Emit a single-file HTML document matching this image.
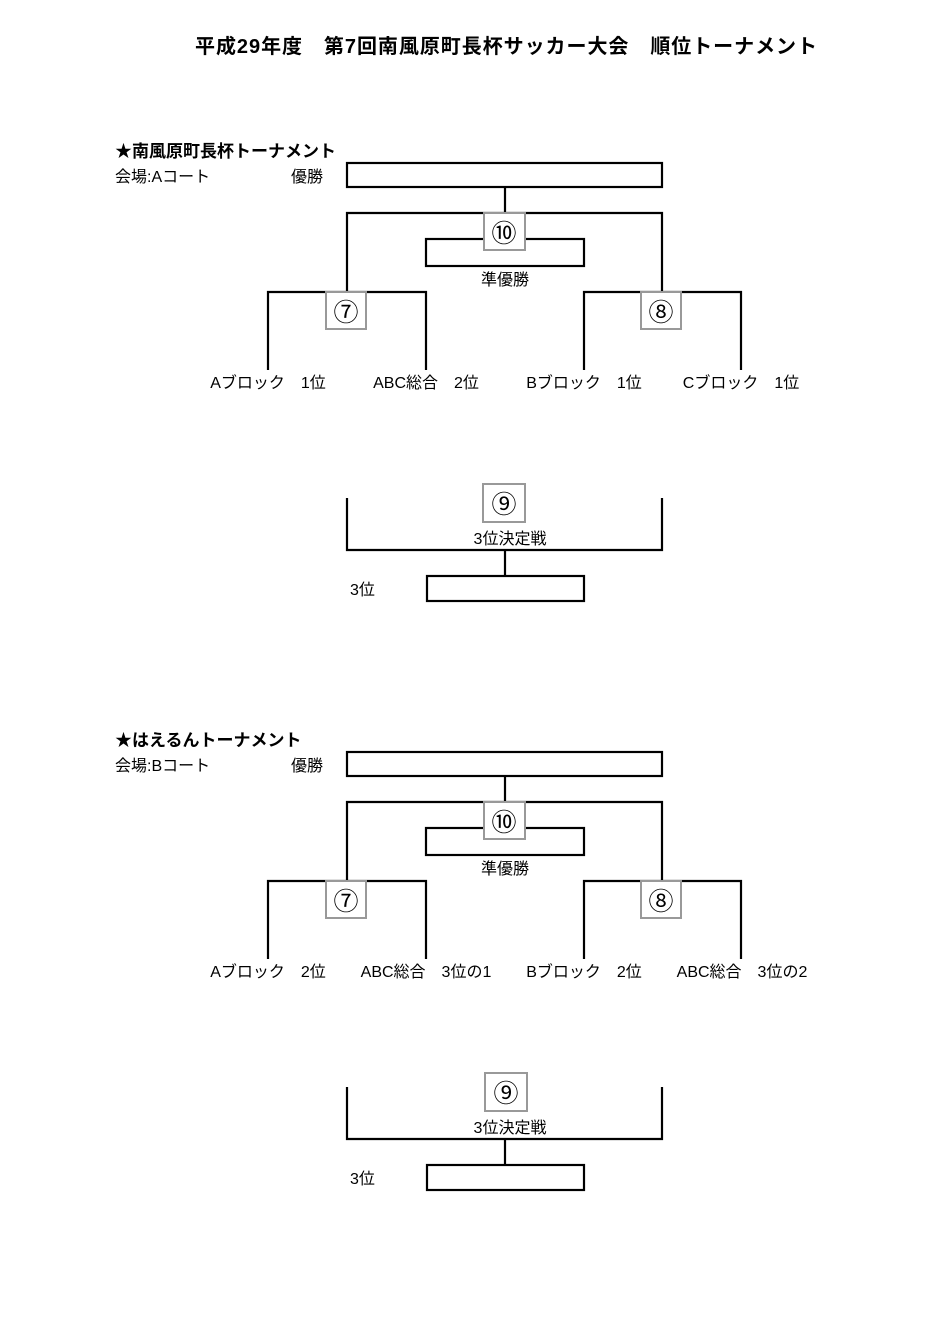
<!DOCTYPE html>
<html><head><meta charset="utf-8"><style>
html,body{margin:0;padding:0;background:#fff;}
svg{display:block;}
text{font-family:"Liberation Sans","Noto Sans CJK JP",sans-serif;fill:#000;}
.b{font-weight:bold;}
</style></head><body>
<svg width="944" height="1334" viewBox="0 0 944 1334" xmlns="http://www.w3.org/2000/svg">
<rect width="944" height="1334" fill="#fff"/>
<text x="195" y="53" font-size="20" class="b" textLength="622" lengthAdjust="spacing">平成29年度　第7回南風原町長杯サッカー大会　順位トーナメント</text>

<g id="s1">
<text x="115" y="157" font-size="17" class="b">★南風原町長杯トーナメント</text>
<text x="115" y="182" font-size="16">会場:Aコート</text>
<text x="291" y="182" font-size="16">優勝</text>
<g fill="none" stroke="#000" stroke-width="2.2">
<rect x="347" y="163" width="315" height="24"/>
<path d="M505 187V213M347 292V213H662V292"/>
<rect x="426" y="239" width="158" height="27"/>
<path d="M268 370V292H426V370M584 370V292H741V370"/>
</g>
<g fill="#fff" stroke="#999" stroke-width="2">
<rect x="484" y="213" width="41" height="37"/>
<rect x="326" y="292" width="40" height="37"/>
<rect x="641" y="292" width="40" height="37"/>
</g>
<text x="504" y="242" font-size="25" text-anchor="middle">⑩</text>
<text x="346" y="321" font-size="25" text-anchor="middle">⑦</text>
<text x="661" y="321" font-size="25" text-anchor="middle">⑧</text>
<text x="505" y="285" font-size="16" text-anchor="middle">準優勝</text>
</g>

<text x="268" y="388" font-size="16" text-anchor="middle">Aブロック　1位</text>
<text x="426" y="388" font-size="16" text-anchor="middle">ABC総合　2位</text>
<text x="584" y="388" font-size="16" text-anchor="middle">Bブロック　1位</text>
<text x="741" y="388" font-size="16" text-anchor="middle">Cブロック　1位</text>

<g id="t1">
<g fill="none" stroke="#000" stroke-width="2.2">
<path d="M347 498V550H662V498M505 550V576"/>
<rect x="427" y="576" width="157" height="25"/>
</g>
<rect x="483" y="484" width="42" height="38" fill="#fff" stroke="#999" stroke-width="2"/>
<text x="504" y="513" font-size="25" text-anchor="middle">⑨</text>
<text x="510" y="544" font-size="16" text-anchor="middle">3位決定戦</text>
<text x="350" y="595" font-size="16">3位</text>
</g>

<g transform="translate(0,589)">
<g fill="none" stroke="#000" stroke-width="2.2">
<rect x="347" y="163" width="315" height="24"/>
<path d="M505 187V213M347 292V213H662V292"/>
<rect x="426" y="239" width="158" height="27"/>
<path d="M268 370V292H426V370M584 370V292H741V370"/>
</g>
<g fill="#fff" stroke="#999" stroke-width="2">
<rect x="484" y="213" width="41" height="37"/>
<rect x="326" y="292" width="40" height="37"/>
<rect x="641" y="292" width="40" height="37"/>
</g>
<text x="504" y="242" font-size="25" text-anchor="middle">⑩</text>
<text x="346" y="321" font-size="25" text-anchor="middle">⑦</text>
<text x="661" y="321" font-size="25" text-anchor="middle">⑧</text>
<text x="505" y="285" font-size="16" text-anchor="middle">準優勝</text>
<text x="115" y="157" font-size="17" class="b">★はえるんトーナメント</text>
<text x="115" y="182" font-size="16">会場:Bコート</text>
<text x="291" y="182" font-size="16">優勝</text>
<text x="268" y="388" font-size="16" text-anchor="middle">Aブロック　2位</text>
<text x="426" y="388" font-size="16" text-anchor="middle">ABC総合　3位の1</text>
<text x="584" y="388" font-size="16" text-anchor="middle">Bブロック　2位</text>
<text x="742" y="388" font-size="16" text-anchor="middle">ABC総合　3位の2</text>
<g fill="none" stroke="#000" stroke-width="2.2">
<path d="M347 498V550H662V498M505 550V576"/>
<rect x="427" y="576" width="157" height="25"/>
</g>
<rect x="485" y="484" width="42" height="38" fill="#fff" stroke="#999" stroke-width="2"/>
<text x="506" y="513" font-size="25" text-anchor="middle">⑨</text>
<text x="510" y="544" font-size="16" text-anchor="middle">3位決定戦</text>
<text x="350" y="595" font-size="16">3位</text>
</g>
</svg>
</body></html>
